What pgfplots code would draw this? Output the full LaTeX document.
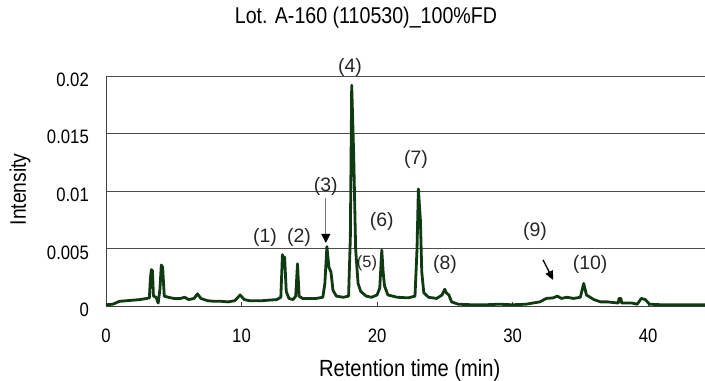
\documentclass[border=0pt]{standalone}
\usepackage{fontspec}
\setmainfont{Liberation Sans}[FakeStretch=0.86]
\newfontfamily\labfont{Liberation Sans}
\usepackage{pgfplots}
\pgfplotsset{compat=1.18}
\usetikzlibrary{arrows.meta}
\definecolor{trace}{RGB}{16,58,18}
\begin{document}
\begin{tikzpicture}
\begin{axis}[
  scale only axis,
  width=599bp, height=230.5bp,
  xmin=0, xmax=44.2, ymin=0, ymax=0.02,
  axis x line*=bottom, axis y line*=left,
  axis line style={black!75, line width=0.8bp, -},
  xtick={0,10,20,30,40},
  ytick={0,0.005,0.01,0.015,0.02},
  yticklabels={0,0.005,0.01,0.015,0.02},
  scaled y ticks=false,
  ymajorgrids, major grid style={black!70, line width=0.8bp},
  tick align=inside,
  major tick length=5bp,
  ytick style={draw=none},
  xtick style={black!75, line width=0.8bp},
  /pgf/number format/assume math mode=true,
  tick label style={font=\fontsize{19.5}{21}\selectfont, text=black},
  xticklabel style={anchor=north, inner sep=0pt, yshift=-22bp},
  yticklabel style={anchor=east, inner sep=0pt, xshift=-17bp, yshift=-3.5bp},
  clip=false,
]
\addplot[trace, line width=2.8bp, line join=round] table {
x y
0.0 0.00015
0.5 0.0002
1.0 0.00045
1.5 0.0005
2.0 0.00055
2.5 0.0006
3.0 0.0007
3.2 0.00075
3.28 0.0025
3.35 0.0032
3.43 0.0031
3.5 0.0009
3.7 0.0008
3.85 0.0003
3.98 0.0015
4.08 0.0036
4.18 0.0034
4.3 0.0009
4.6 0.0008
5.0 0.0007
5.5 0.0007
5.8 0.0008
6.1 0.0006
6.5 0.0007
6.75 0.0011
7.0 0.0007
7.5 0.0005
8.0 0.00045
8.5 0.00045
9.0 0.0004
9.5 0.0005
9.9 0.001
10.2 0.0006
10.6 0.0005
11.0 0.0005
11.5 0.0005
12.0 0.00055
12.6 0.0006
12.9 0.0008
13.02 0.0045
13.1 0.0039
13.18 0.0043
13.3 0.0013
13.5 0.0007
13.8 0.0006
14.0 0.0009
14.13 0.0037
14.25 0.0009
14.5 0.0007
15.0 0.0007
15.5 0.0007
16.0 0.0008
16.15 0.002
16.3 0.0052
16.45 0.0034
16.6 0.003
16.75 0.0014
17.0 0.0009
17.5 0.0008
17.9 0.0009
18.03 0.006
18.13 0.0192
18.28 0.013
18.42 0.005
18.6 0.002
18.8 0.0013
19.2 0.0009
19.6 0.0008
20.0 0.001
20.2 0.0016
20.35 0.0049
20.45 0.003
20.55 0.0018
20.8 0.001
21.5 0.0008
22.3 0.00075
22.8 0.0009
22.95 0.005
23.05 0.0102
23.2 0.0075
23.3 0.003
23.45 0.0012
23.8 0.0008
24.4 0.0007
24.8 0.001
25.0 0.0015
25.1 0.0012
25.3 0.001
25.5 0.0004
26.0 0.0002
27.0 0.00015
28.0 0.00015
29.0 0.0002
30.0 0.00015
31.0 0.0002
32.0 0.0004
32.5 0.0007
33.0 0.00075
33.3 0.0009
33.6 0.0007
34.0 0.0008
34.5 0.0007
35.0 0.0008
35.25 0.002
35.45 0.001
36.0 0.0006
36.5 0.0004
37.0 0.0004
37.8 0.0003
37.85 0.0007
38.0 0.0007
38.05 0.0003
38.8 0.0003
39.2 0.0002
39.5 0.0007
39.8 0.0006
40.1 0.0002
41.0 0.00015
42.0 0.00015
43.0 0.00015
44.2 0.00015
};
\coordinate (SW) at (rel axis cs:0,0);
% peak labels
\begin{scope}[every node/.style={font=\labfont\fontsize{19.5}{21}\selectfont, text=black!85, inner sep=0pt}]
\node at (axis cs:11.73,0.00596) {(1)};
\node at (axis cs:14.24,0.00596) {(2)};
\node at (axis cs:16.22,0.01042) {(3)};
\node at (axis cs:18.0,0.02074) {(4)};
\node[font=\labfont\fontsize{16.5}{18}\selectfont] at (axis cs:19.26,0.00378) {(5)};
\node at (axis cs:20.35,0.00737) {(6)};
\node at (axis cs:22.88,0.01274) {(7)};
\node at (axis cs:25.02,0.00361) {(8)};
\node at (axis cs:31.66,0.0065) {(9)};
\node at (axis cs:35.72,0.00361) {(10)};
\end{scope}
\draw[black!55, line width=1bp, -{Triangle[color=black, width=9bp, length=9bp]}] (axis cs:16.22,0.00943) -- (axis cs:16.22,0.00552);
\draw[black, line width=1.3bp, -{Triangle[width=8bp, length=9bp]}] (axis cs:32.25,0.00404) -- (axis cs:33.0,0.0023);
% titles
\node[font=\fontsize{22.9}{24}\selectfont, text=black] at (axis description cs:0.434,1.2516) {Lot. A-160 (110530)\_100\%FD};
\node[font=\fontsize{23.5}{25}\selectfont, text=black] at (axis description cs:0.507,-0.2755) {Retention time (min)};
\node[font=\fontsize{22.5}{24}\selectfont, text=black, rotate=90] at (axis description cs:-0.1436,0.5085) {Intensity};
\end{axis}
\pgfresetboundingbox
\path (SW) ++(-106bp,-74.5bp) rectangle ++(705bp,381bp);
\end{tikzpicture}
\end{document}
